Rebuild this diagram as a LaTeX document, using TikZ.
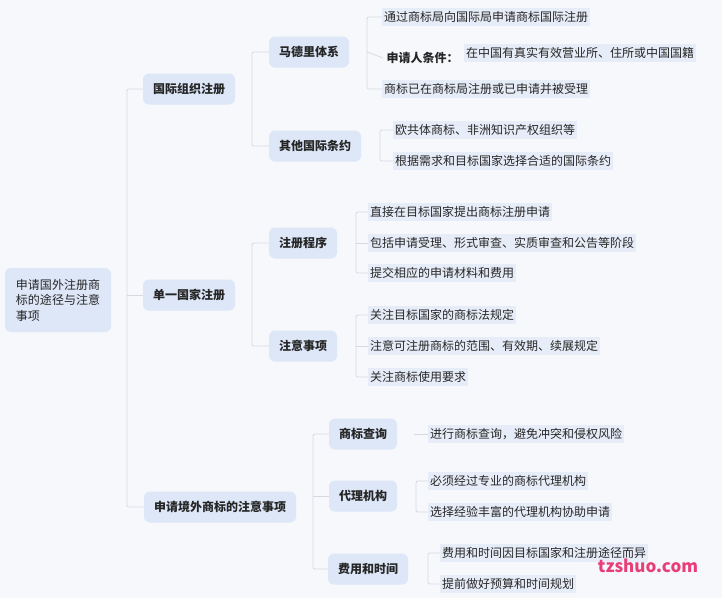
\documentclass[tikz,border=0pt]{standalone}
\usepackage{fontspec}
\setmainfont{Noto Sans CJK SC}
\definecolor{bgc}{RGB}{246,248,251}
\definecolor{topc}{RGB}{221,231,248}
\definecolor{leafc}{RGB}{231,237,248}
\definecolor{linec}{RGB}{214,218,224}
\definecolor{wmc}{RGB}{232,62,120}
\begin{document}
\begin{tikzpicture}[x=1pt,y=-1pt,
  every node/.style={font=\fontsize{12}{15.5}\selectfont, text=black!85},
  topic/.style={fill=topc, rounded corners=6pt, font=\fontsize{12}{15.5}\selectfont\bfseries, minimum height=31pt, inner xsep=10pt},
  rootbox/.style={fill=topc, rounded corners=6pt, align=left, inner sep=6pt, minimum height=64pt, minimum width=106pt},
  leaf/.style={fill=leafc, anchor=west, inner xsep=2pt, inner ysep=3pt},
  conn/.style={draw=linec, line width=0.8pt, rounded corners=2pt}]
\fill[bgc] (0,0) rectangle (722,598);
\useasboundingbox (0,0) rectangle (722,598);
% root
\node[rootbox] (r) at (58,300) {申请国外注册商\\标的途径与注意\\事项};
% level 1
\node[topic] (a) at (189,89) {国际组织注册};
\node[topic] (b) at (189,295) {单一国家注册};
\node[topic] (c) at (220,507) {申请境外商标的注意事项};
\draw[conn] (a.west) -- (127,89) |- (c.west);
\draw[conn] (127,295) -- (b.west);
% level 2
\node[topic] (a1) at (309,52) {马德里体系};
\node[topic] (a2) at (315,146) {其他国际条约};
\draw[conn] (a1.west) -- (252,52) |- (a2.west);
\node[topic] (b1) at (303,243) {注册程序};
\node[topic] (b2) at (303,346) {注意事项};
\draw[conn] (b1.west) -- (252,243) |- (b2.west);
\node[topic] (c1) at (363,434) {商标查询};
\node[topic] (c2) at (363,496) {代理机构};
\node[topic] (c3) at (368,569) {费用和时间};
\draw[conn] (c1.west) -- (313,434) |- (c3.west);
\draw[conn] (313,496) -- (c2.west);
% madrid leaves
\node[leaf] (a11) at (382,17) {通过商标局向国际局申请商标国际注册};
\node[anchor=west, font=\fontsize{12}{15.5}\selectfont\bfseries] (a12t) at (383,58) {申请人条件：};
\node[leaf] (a12) at (464,53) {在中国有真实有效营业所、住所或中国国籍};
\node[leaf] (a13) at (382,89) {商标已在商标局注册或已申请并被受理};
\draw[conn] (a11.west) -- (367,17) |- (a13.west);
\draw[conn] (367,52) -- (a12t.west);
% other treaties
\node[leaf] (a21) at (393,130) {欧共体商标、非洲知识产权组织等};
\node[leaf] (a22) at (393,161) {根据需求和目标国家选择合适的国际条约};
\draw[conn] (a21.west) -- (380,130) |- (a22.west);
% procedure
\node[leaf] (b11) at (368,212) {直接在目标国家提出商标注册申请};
\node[leaf] (b12) at (368,243) {包括申请受理、形式审查、实质审查和公告等阶段};
\node[leaf] (b13) at (368,273) {提交相应的申请材料和费用};
\draw[conn] (b11.west) -- (356,212) |- (b13.west);
\draw[conn] (356,243) -- (b12.west);
% notes
\node[leaf] (b21) at (368,315) {关注目标国家的商标法规定};
\node[leaf] (b22) at (368,346) {注意可注册商标的范围、有效期、续展规定};
\node[leaf] (b23) at (368,377) {关注商标使用要求};
\draw[conn] (b21.west) -- (356,315) |- (b23.west);
\draw[conn] (356,346) -- (b22.west);
% search
\node[leaf] (c11) at (428,434) {进行商标查询，避免冲突和侵权风险};
\draw[conn] (414,434) -- (c11.west);
% agency
\node[leaf] (c21) at (428,481) {必须经过专业的商标代理机构};
\node[leaf] (c22) at (428,512) {选择经验丰富的代理机构协助申请};
\draw[conn] (c21.west) -- (416,481) |- (c22.west);
% cost
\node[leaf] (c31) at (440,553) {费用和时间因目标国家和注册途径而异};
\node[leaf] (c32) at (440,584) {提前做好预算和时间规划};
\draw[conn] (c31.west) -- (428,553) |- (c32.west);
% watermark
\node[text=wmc, font=\fontsize{17}{20}\selectfont\bfseries] (w) at (648,566) {tzshuo.com};
\end{tikzpicture}
\end{document}
